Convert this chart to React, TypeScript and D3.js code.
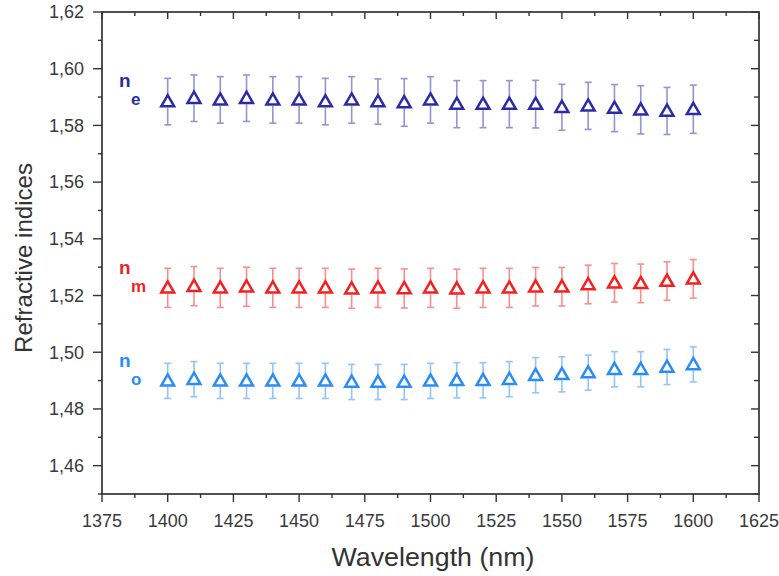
import React from "react";
import * as d3 from "d3";

const wavelengths = [1400,1410,1420,1430,1440,1450,1460,1470,1480,1490,1500,1510,1520,1530,1540,1550,1560,1570,1580,1590,1600];
const neValues = [1.5884,1.5896,1.5890,1.5896,1.5890,1.5890,1.5884,1.5890,1.5884,1.5881,1.5890,1.5875,1.5875,1.5875,1.5875,1.5864,1.5869,1.5861,1.5855,1.5851,1.5857];
const neErrors = [0.0082,0.0082,0.0082,0.0082,0.0082,0.0082,0.0082,0.0082,0.0080,0.0084,0.0082,0.0083,0.0083,0.0083,0.0084,0.0081,0.0083,0.0083,0.0085,0.0083,0.0085];
const nmValues = [1.5227,1.5233,1.5227,1.5231,1.5227,1.5227,1.5227,1.5224,1.5227,1.5225,1.5227,1.5224,1.5227,1.5227,1.5231,1.5231,1.5239,1.5245,1.5243,1.5251,1.5259];
const nmErrors = [0.0069,0.0069,0.0069,0.0069,0.0069,0.0069,0.0069,0.0069,0.0069,0.0069,0.0069,0.0069,0.0069,0.0069,0.0068,0.0068,0.0068,0.0068,0.0068,0.0068,0.0068];
const noValues = [1.4899,1.4905,1.4899,1.4899,1.4899,1.4899,1.4899,1.4895,1.4895,1.4895,1.4899,1.4901,1.4901,1.4905,1.4919,1.4922,1.4928,1.4940,1.4940,1.4948,1.4957];
const noErrors = [0.0062,0.0062,0.0062,0.0062,0.0062,0.0062,0.0062,0.0062,0.0062,0.0062,0.0062,0.0062,0.0062,0.0062,0.0062,0.0062,0.0062,0.0062,0.0062,0.0062,0.0062];

const xTicks = [1375,1400,1425,1450,1475,1500,1525,1550,1575,1600,1625];
const yTicks = [1.46,1.48,1.50,1.52,1.54,1.56,1.58,1.60,1.62];
const seriesNames = ["e", "m", "o"];
const seriesColors = ["#2b2ba8", "#f51f1f", "#2a8cf5"];

const W = 779, H = 576;
const L = 102, R = 759, T = 12, B = 494;

export default function App() {
  const x = d3.scaleLinear().domain([1375, 1625]).range([L, R]);
  const y = d3.scaleLinear().domain([1.45, 1.62]).range([B, T]);
  const fmt = (v: number) => d3.format(".2f")(v).replace(".", ",");
  const xMinor = d3.range(1375, 1625.1, 12.5);
  const yMinor = d3.range(1.45, 1.6201, 0.01);
  const allSeries = [
    { vals: neValues, errs: neErrors },
    { vals: nmValues, errs: nmErrors },
    { vals: noValues, errs: noErrors },
  ];
  const labelPos = [1.5937, 1.5275, 1.4948];
  const tri = d3.symbol().type(d3.symbolTriangle).size(72)();
  const axisColor = "#333";
  const font = "'Liberation Sans', Arial, sans-serif";

  return (
    <svg width={W} height={H} style={{ position: "absolute", left: 0, top: 0, background: "#fff" }} fontFamily={font}>
      <rect x={0} y={0} width={W} height={H} fill="#fff" />
      {xMinor.map((t, i) => {
        const major = i % 2 === 0;
        return (
          <g key={"xm" + i} stroke={axisColor} strokeWidth={1.4}>
            <line x1={x(t)} x2={x(t)} y1={B} y2={B + (major ? 8 : 4)} />
            <line x1={x(t)} x2={x(t)} y1={T} y2={T + (major ? 7 : 4)} />
          </g>
        );
      })}
      {yMinor.map((t, i) => {
        const major = i % 2 === 1;
        return (
          <g key={"ym" + i} stroke={axisColor} strokeWidth={1.4}>
            <line x1={L} x2={L - (major ? 9 : 4)} y1={y(t)} y2={y(t)} />
            <line x1={R} x2={R - (major ? 8 : 5)} y1={y(t)} y2={y(t)} />
          </g>
        );
      })}
      <rect x={L} y={T} width={R - L} height={B - T} fill="none" stroke={axisColor} strokeWidth={1.7} />
      {yTicks.map((t) => (
        <text key={"yl" + t} x={L - 18} y={y(t)} dy="0.35em" textAnchor="end" fontSize={18} fill="#3a3a3a">
          {fmt(t)}
        </text>
      ))}
      {xTicks.map((t) => (
        <text key={"xl" + t} x={x(t)} y={527} textAnchor="middle" fontSize={18} fill="#3a3a3a" textLength={40} lengthAdjust="spacingAndGlyphs">
          {t}
        </text>
      ))}
      <text x={433} y={566} textAnchor="middle" fontSize={25} fill="#333" textLength={203} lengthAdjust="spacingAndGlyphs">Wavelength (nm)</text>
      <text transform={`translate(32,258) rotate(-90)`} textAnchor="middle" fontSize={24} fill="#333" textLength={190} lengthAdjust="spacingAndGlyphs">Refractive indices</text>
      {allSeries.map((s, si) => (
        <g key={"s" + si}>
          {s.vals.map((v, i) => {
            const cx = x(wavelengths[i]);
            const cy = y(v);
            const top = y(v + s.errs[i]);
            const bot = y(v - s.errs[i]);
            return (
              <g key={i}>
                <g stroke={seriesColors[si]} strokeWidth={1.6} opacity={0.5}>
                  <line x1={cx} x2={cx} y1={top} y2={cy - 6} />
                  <line x1={cx} x2={cx} y1={cy + 6} y2={bot} />
                  <line x1={cx - 3.5} x2={cx + 3.5} y1={top} y2={top} />
                  <line x1={cx - 3.5} x2={cx + 3.5} y1={bot} y2={bot} />
                </g>
                <path d={tri as string} transform={`translate(${cx},${cy + 1})`} fill="#fff" stroke={seriesColors[si]} strokeWidth={2.5} />
              </g>
            );
          })}
          <text x={119} y={y(labelPos[si])} fontSize={19} fontWeight="bold" fill={seriesColors[si]}>
            n
            <tspan x={131} dy={18} fontSize={17}>{seriesNames[si]}</tspan>
          </text>
        </g>
      ))}
    </svg>
  );
}
